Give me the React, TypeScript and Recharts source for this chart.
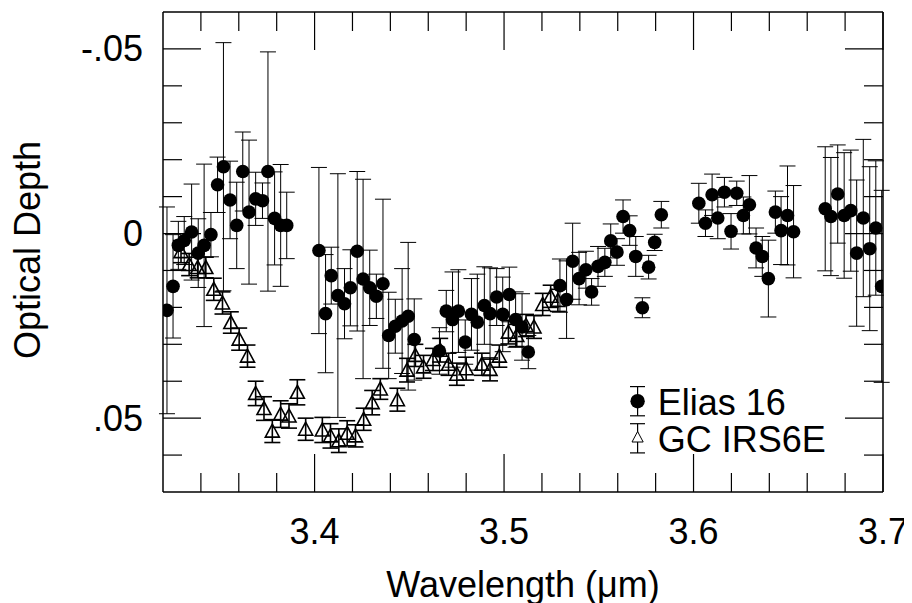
import React from 'react';
import { ScatterChart, Scatter, XAxis, YAxis, ErrorBar, Customized } from 'recharts';

// Elias 16
const eliasX = [3.3221, 3.3253, 3.3281, 3.3312, 3.3351, 3.3386, 3.3417, 3.3453, 3.3488, 3.3519, 3.3554, 3.3589, 3.3621, 3.3654, 3.3689, 3.3725, 3.3754, 3.3789, 3.3821, 3.3853,
  3.4023, 3.4058, 3.4088, 3.4123, 3.4158, 3.4189, 3.4225, 3.4256, 3.4291, 3.4326, 3.4361, 3.4391, 3.4426, 3.4462, 3.4494, 3.4526,
  3.4659, 3.4695, 3.4728, 3.4759, 3.4795, 3.4828, 3.4859, 3.4896, 3.4926, 3.4961, 3.4993, 3.5028, 3.5061, 3.5095, 3.5128,
  3.5295, 3.533, 3.5362, 3.5396, 3.5432, 3.5462, 3.5496, 3.5532, 3.5563, 3.5596, 3.5628, 3.5663, 3.5695, 3.573, 3.5763, 3.5795, 3.583,
  3.6028, 3.6063, 3.6098, 3.6128, 3.6163, 3.6198, 3.6228, 3.6263, 3.6295, 3.633, 3.6363, 3.6395, 3.6432, 3.6462, 3.6496, 3.6528,
  3.6695, 3.6725, 3.6761, 3.6795, 3.683, 3.6861, 3.6896, 3.693, 3.6962, 3.6993];
const eliasY = [0.0208, 0.0143, 0.0032, 0.0019, -0.0004, 0.0053, 0.0032, 0.0003, -0.0132, -0.0181, -0.0091, -0.0022, -0.0168, -0.0058, -0.0094, -0.0089, -0.0168, -0.0041, -0.0022, -0.0022,
  0.0046, 0.0217, 0.0114, 0.0168, 0.019, 0.0147, 0.0048, 0.0123, 0.0147, 0.017, 0.0136, 0.0276, 0.0251, 0.0237, 0.0224, 0.0287,
  0.0318, 0.021, 0.0233, 0.021, 0.0294, 0.0219, 0.024, 0.0195, 0.0217, 0.0172, 0.0219, 0.0165, 0.0233, 0.0253, 0.0321,
  0.0141, 0.0179, 0.0075, 0.0122, 0.0098, 0.0158, 0.0089, 0.0078, 0.002, 0.005, -0.0046, -0.0008, 0.0062, 0.0201, 0.0091, 0.0024, -0.0051,
  -0.0082, -0.0028, -0.0105, -0.0042, -0.0112, -0.0006, -0.0109, -0.0049, -0.0078, 0.0039, 0.0062, 0.0122, -0.0058, -0.0008, -0.0049, -0.0005,
  -0.0067, -0.0046, -0.0107, -0.0049, -0.0062, 0.0053, -0.0042, 0.0041, -0.0015, 0.0143];
const eliasErr = [0.028, 0.014, 0.0065, 0.0065, 0.013, 0.0093, 0.022, 0.006, 0.0075, 0.0336, 0.0105, 0.0117, 0.0107, 0.0195, 0.0072, 0.0048, 0.0324, 0.0126, 0.0165, 0.009,
  0.0225, 0.016, 0.0077, 0.033, 0.0095, 0.0103, 0.0216, 0.027, 0.0102, 0.006, 0.0229, 0.0117, 0.0073, 0.0142, 0.02, 0.011,
  0.0063, 0.0056, 0.0129, 0.0112, 0.006, 0.0097, 0.013, 0.0105, 0.0124, 0.0077, 0.0101, 0.0074, 0.0075, 0.009, 0.0045,
  0.0072, 0.0105, 0.0103, 0.0071, 0.005, 0.0036, 0.0054, 0.0038, 0.0046, 0.0036, 0.0045, 0.004, 0.0054, 0.0027, 0.0032, 0.0022, 0.0036,
  0.0054, 0.0036, 0.0056, 0.0056, 0.004, 0.0048, 0.0033, 0.005, 0.0079, 0.0054, 0.0054, 0.0104, 0.0057, 0.0092, 0.0134, 0.0125,
  0.0168, 0.016, 0.0133, 0.017, 0.0164, 0.0198, 0.0213, 0.0222, 0.0182, 0.026];

// GC IRS6E
const gcX = [3.3295, 3.3338, 3.3383, 3.3426, 3.3468, 3.3514, 3.3558, 3.3602, 3.3646, 3.3689, 3.3733, 3.3777, 3.3821, 3.3865, 3.3909, 3.3953,
  3.4041, 3.4084, 3.4128, 3.4172, 3.4216, 3.4259, 3.4304, 3.4347, 3.4437, 3.4488, 3.4532, 3.4575, 3.4625, 3.4663, 3.4707, 3.4751, 3.48,
  3.4883, 3.4926, 3.4975, 3.5023, 3.5067, 3.5116, 3.5158, 3.5204, 3.5246, 3.5284];
const gcY = [0.0049, 0.0084, 0.0092, 0.0092, 0.0151, 0.0188, 0.0241, 0.0286, 0.0332, 0.0433, 0.0474, 0.0535, 0.0489, 0.0494, 0.043, 0.053,
  0.0532, 0.0548, 0.0561, 0.0541, 0.0548, 0.0503, 0.0458, 0.0421, 0.045, 0.037, 0.033, 0.0361, 0.0341, 0.0316, 0.0354, 0.0381, 0.0366,
  0.0354, 0.0368, 0.0332, 0.0267, 0.0276, 0.0249, 0.0253, 0.0192, 0.017, 0.0181];
const gcErr = [0.003, 0.003, 0.0028, 0.0028, 0.003, 0.003, 0.0029, 0.003, 0.003, 0.0033, 0.0032, 0.0031, 0.0036, 0.0033, 0.0034, 0.003,
  0.0034, 0.0033, 0.0032, 0.0034, 0.003, 0.003, 0.0033, 0.0028, 0.0031, 0.0032, 0.003, 0.0031, 0.003, 0.0032, 0.003, 0.003, 0.0031,
  0.003, 0.0031, 0.003, 0.0032, 0.003, 0.003, 0.0031, 0.003, 0.003, 0.003];

const xTicks = [3.34, 3.36, 3.38, 3.4, 3.42, 3.44, 3.46, 3.48, 3.5, 3.52, 3.54, 3.56, 3.58, 3.6, 3.62, 3.64, 3.66, 3.68, 3.7];
const yTicks = [-0.05, -0.04, -0.03, -0.02, -0.01, 0, 0.01, 0.02, 0.03, 0.04, 0.05, 0.06];
const xMajor = [3.4, 3.5, 3.6, 3.7];
const yMajor = [-0.05, 0, 0.05];

const eliasData = eliasX.map((x, i) => ({ x, y: eliasY[i], err: eliasErr[i] }));
const gcData = gcX.map((x, i) => ({ x, y: gcY[i], err: gcErr[i] }));

const FONT = '"Liberation Sans", Arial, Helvetica, sans-serif';
const isXMajor = (v: number) => xMajor.some((m) => Math.abs(m - v) < 1e-6);
const isYMajor = (v: number) => yMajor.some((m) => Math.abs(m - v) < 1e-6);
const yLabel = (v: number) => {
  if (Math.abs(v) < 1e-9) return '0';
  const s = String(Math.round(Math.abs(v) * 100)).padStart(2, '0');
  return (v < 0 ? '-' : '') + '.' + s;
};

const TS = 1.2;
const BottomTick = (p: any) => {
  const v = p.payload.value;
  const m = isXMajor(v);
  return (
    <g>
      <line x1={p.x} y1={p.y} x2={p.x} y2={p.y - (m ? 38 : 19)} stroke="#000" strokeWidth={TS} />
      {m && (
        <text x={p.x} y={p.y + 51.5} textAnchor="middle" fontSize={36} fontFamily={FONT} fill="#000">
          {v.toFixed(1)}
        </text>
      )}
    </g>
  );
};
const TopTick = (p: any) => {
  const v = p.payload.value;
  const m = isXMajor(v);
  return <line x1={p.x} y1={p.y} x2={p.x} y2={p.y + (m ? 38 : 19)} stroke="#000" strokeWidth={TS} />;
};
const LeftTick = (p: any) => {
  const v = p.payload.value;
  const m = isYMajor(v);
  return (
    <g>
      <line x1={p.x} y1={p.y} x2={p.x + (m ? 38 : 19)} y2={p.y} stroke="#000" strokeWidth={TS} />
      {m && (
        <text x={p.x - 20} y={p.y + 12.5} textAnchor="end" fontSize={36} fontFamily={FONT} fill="#000">
          {yLabel(v)}
        </text>
      )}
    </g>
  );
};
const RightTick = (p: any) => {
  const v = p.payload.value;
  const m = isYMajor(v);
  return <line x1={p.x} y1={p.y} x2={p.x - (m ? 38 : 19)} y2={p.y} stroke="#000" strokeWidth={TS} />;
};

const Dot = (p: any) => <circle cx={p.cx} cy={p.cy} r={6.8} fill="#000" />;
const Tri = (p: any) => (
  <polygon
    points={`${p.cx},${p.cy - 7} ${p.cx - 7},${p.cy + 6} ${p.cx + 7},${p.cy + 6}`}
    fill="#fff"
    fillOpacity={0}
    stroke="#000"
    strokeWidth={1.6}
  />
);

const Decor = () => (
  <g fontFamily={FONT} fill="#000">
    <text transform="translate(32,242) rotate(-90)" textAnchor="middle" fontSize={36}>
      Optical Depth
    </text>
    <text x={515} y={588.5} textAnchor="middle" fontSize={36}>
      Wavelength (μm)
    </text>
    {/* legend */}
    <line x1={629.6} y1={378.6} x2={629.6} y2={407.8} stroke="#000" strokeWidth={1.2} />
    <line x1={622} y1={378.6} x2={637} y2={378.6} stroke="#000" strokeWidth={1.2} />
    <line x1={622} y1={407.8} x2={637} y2={407.8} stroke="#000" strokeWidth={1.2} />
    <circle cx={629.6} cy={393.2} r={7.2} fill="#000" />
    <text x={649.7} y={407.3} fontSize={36}>Elias 16</text>
    <line x1={629.6} y1={415.7} x2={629.6} y2={444.9} stroke="#000" strokeWidth={1.2} />
    <line x1={622} y1={415.7} x2={637} y2={415.7} stroke="#000" strokeWidth={1.2} />
    <line x1={622} y1={444.9} x2={637} y2={444.9} stroke="#000" strokeWidth={1.2} />
    <polygon points="629.6,423.5 624,434 635.2,434" fill="#fff" stroke="#000" strokeWidth={1} />
    <text x={649.7} y={444.2} fontSize={36}>GC IRS6E</text>
  </g>
);

export default function App() {
  return (
    <>
      <style>{'html,body{overflow:hidden;} .recharts-wrapper,.recharts-surface{overflow:visible !important;}'}</style>
      <ScatterChart width={904} height={595} margin={{ top: 3, right: 28, bottom: 110, left: 154 }}>
        <XAxis
          xAxisId="b"
          orientation="bottom"
          type="number"
          dataKey="x"
          domain={[3.32, 3.7]}
          allowDataOverflow
          ticks={xTicks}
          interval={0}
          height={1}
          tickSize={0}
          tickMargin={0}
          tickLine={false}
          axisLine={{ stroke: '#000', strokeWidth: 1.5 }}
          tick={BottomTick}
        />
        <XAxis
          xAxisId="t"
          orientation="top"
          type="number"
          dataKey="x"
          domain={[3.32, 3.7]}
          allowDataOverflow
          ticks={xTicks}
          interval={0}
          height={1}
          tickSize={0}
          tickMargin={0}
          tickLine={false}
          axisLine={{ stroke: '#000', strokeWidth: 1.5 }}
          tick={TopTick}
        />
        <YAxis
          yAxisId="l"
          orientation="left"
          type="number"
          dataKey="y"
          domain={[-0.06, 0.07]}
          reversed
          allowDataOverflow
          ticks={yTicks}
          interval={0}
          width={1}
          tickSize={0}
          tickMargin={0}
          tickLine={false}
          axisLine={{ stroke: '#000', strokeWidth: 1.5 }}
          tick={LeftTick}
        />
        <YAxis
          yAxisId="r"
          orientation="right"
          type="number"
          dataKey="y"
          domain={[-0.06, 0.07]}
          reversed
          allowDataOverflow
          ticks={yTicks}
          interval={0}
          width={1}
          tickSize={0}
          tickMargin={0}
          tickLine={false}
          axisLine={{ stroke: '#000', strokeWidth: 1.5 }}
          tick={RightTick}
        />
        <Scatter data={gcData} xAxisId="b" yAxisId="l" shape={Tri} isAnimationActive={false}>
          <ErrorBar dataKey="err" direction="y" width={8} stroke="#000" strokeWidth={1.6} isAnimationActive={false} />
        </Scatter>
        <Scatter data={eliasData} xAxisId="b" yAxisId="l" shape={Dot} isAnimationActive={false}>
          <ErrorBar dataKey="err" direction="y" width={8} stroke="#000" strokeWidth={1} isAnimationActive={false} />
        </Scatter>
        <Customized component={Decor} />
      </ScatterChart>
    </>
  );
}
